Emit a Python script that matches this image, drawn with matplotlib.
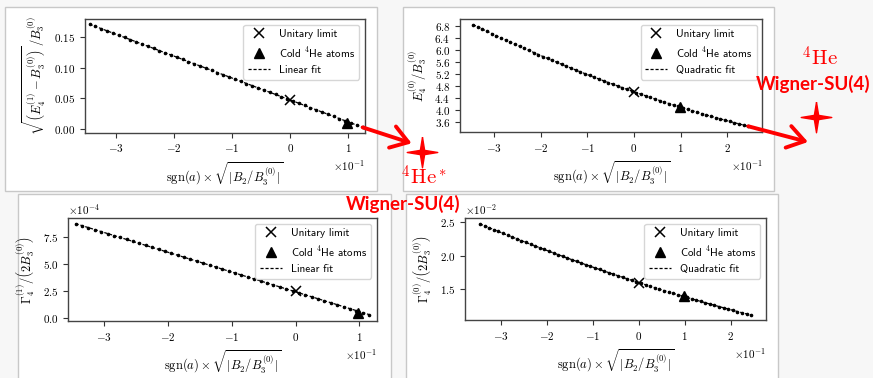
import numpy as np
import matplotlib
matplotlib.use("Agg")
import matplotlib.pyplot as plt
from matplotlib.patches import Rectangle, ConnectionPatch
from matplotlib.ticker import MultipleLocator

plt.rcParams['font.family'] = 'cmr10'
plt.rcParams['mathtext.fontset'] = 'cm'
plt.rcParams['axes.formatter.use_mathtext'] = True

# sgn(a) * sqrt(|B2/B3^(0)|), in units of 1e-1
x_lin = [-3.45, -3.35, -3.25, -3.15, -3.05, -2.95, -2.85, -2.75, -2.65, -2.55,
         -2.45, -2.35, -2.25, -2.15, -2.05, -1.95, -1.85, -1.75, -1.65, -1.55,
         -1.45, -1.35, -1.25, -1.15, -1.05, -0.95, -0.85, -0.75, -0.65, -0.55,
         -0.45, -0.35, -0.25, -0.15, -0.05, 0.05, 0.15, 0.25, 0.35, 0.45,
         0.55, 0.65, 0.75, 0.85, 0.95, 1.05, 1.15, 1.25]
x_quad = [-3.45, -3.35, -3.25, -3.15, -3.05, -2.95, -2.85, -2.75, -2.65, -2.55,
          -2.45, -2.35, -2.25, -2.15, -2.05, -1.95, -1.85, -1.75, -1.65, -1.55,
          -1.45, -1.35, -1.25, -1.15, -1.05, -0.95, -0.85, -0.75, -0.65, -0.55,
          -0.45, -0.35, -0.25, -0.15, -0.05, 0.05, 0.15, 0.25, 0.35, 0.45,
          0.55, 0.65, 0.75, 0.85, 0.95, 1.05, 1.15, 1.25, 1.35, 1.45,
          1.55, 1.65, 1.75, 1.85, 1.95, 2.05, 2.15, 2.25, 2.35, 2.45]

# sqrt(E4^(1) - B3^(0)) / B3^(0)
e4_excited = [0.1700, 0.1664, 0.1629, 0.1593, 0.1558, 0.1522, 0.1487, 0.1451, 0.1416, 0.1380,
              0.1345, 0.1309, 0.1274, 0.1238, 0.1203, 0.1167, 0.1132, 0.1096, 0.1061, 0.1025,
              0.0990, 0.0954, 0.0919, 0.0883, 0.0848, 0.0812, 0.0777, 0.0741, 0.0706, 0.0670,
              0.0635, 0.0599, 0.0564, 0.0528, 0.0493, 0.0457, 0.0422, 0.0386, 0.0351, 0.0315,
              0.0280, 0.0244, 0.0209, 0.0173, 0.0138, 0.0102, 0.0067, 0.0031]
# E4^(0) / B3^(0)
e4_ground = [6.8336, 6.7590, 6.6850, 6.6116, 6.5389, 6.4667, 6.3951, 6.3241, 6.2538, 6.1840,
             6.1149, 6.0463, 5.9784, 5.9111, 5.8443, 5.7782, 5.7127, 5.6478, 5.5835, 5.5198,
             5.4567, 5.3942, 5.3323, 5.2711, 5.2104, 5.1503, 5.0909, 5.0320, 4.9738, 4.9162,
             4.8591, 4.8027, 4.7469, 4.6917, 4.6371, 4.5831, 4.5297, 4.4769, 4.4247, 4.3731,
             4.3222, 4.2718, 4.2220, 4.1729, 4.1243, 4.0764, 4.0291, 3.9823, 3.9362, 3.8907,
             3.8458, 3.8015, 3.7578, 3.7147, 3.6722, 3.6303, 3.5891, 3.5484, 3.5083, 3.4689]
# Gamma4^(1) / (2 B3^(0)), in units of 1e-4
gamma_excited = [8.764, 8.581, 8.398, 8.215, 8.032, 7.849, 7.666, 7.483, 7.300, 7.117,
                 6.934, 6.751, 6.568, 6.385, 6.202, 6.019, 5.836, 5.653, 5.470, 5.287,
                 5.104, 4.921, 4.738, 4.555, 4.372, 4.189, 4.006, 3.823, 3.640, 3.457,
                 3.274, 3.091, 2.908, 2.725, 2.542, 2.359, 2.176, 1.993, 1.810, 1.627,
                 1.444, 1.261, 1.078, 0.895, 0.712, 0.529, 0.346]
# Gamma4^(0) / (2 B3^(0)), in units of 1e-2
gamma_ground = [2.4762, 2.4476, 2.4193, 2.3912, 2.3632, 2.3354, 2.3077, 2.2804, 2.2532, 2.2261,
                2.1993, 2.1726, 2.1461, 2.1199, 2.0938, 2.0679, 2.0421, 2.0166, 1.9913, 1.9661,
                1.9412, 1.9163, 1.8917, 1.8674, 1.8431, 1.8190, 1.7952, 1.7716, 1.7481, 1.7247,
                1.7017, 1.6787, 1.6560, 1.6335, 1.6111, 1.5889, 1.5669, 1.5452, 1.5235, 1.5021,
                1.4809, 1.4599, 1.4390, 1.4184, 1.3978, 1.3775, 1.3574, 1.3375, 1.3177, 1.2982,
                1.2789, 1.2597, 1.2406, 1.2219, 1.2033, 1.1848, 1.1665, 1.1485, 1.1306, 1.1129]

# special points: unitary limit at x=0, cold 4He atoms near x=1e-1
unitary_x = 0.0
cold_he_x = 0.98
unitary_y = [0.047, 4.61, 2.53, 1.60]
cold_he_y = [0.010, 4.10, 0.52, 1.40]

W, H = 873, 378
xlab = r'$\mathrm{sgn}(a)\times\sqrt{|B_2/B_3^{(0)}|}$'

fig = plt.figure(figsize=(W / 100, H / 100), dpi=100, facecolor='#f7f7f7')

# white slide frames (pixel boxes: x0, y0, x1, y1 from top-left)
for x0, y0, x1, y1 in [(5, 7, 377, 191), (403, 7, 774, 191),
                       (18, 194, 391, 385), (406, 194, 778, 385)]:
    fig.add_artist(Rectangle((x0 / W, 1 - y1 / H), (x1 - x0) / W, (y1 - y0) / H,
                             transform=fig.transFigure, facecolor='white',
                             edgecolor='#c8c8c8', lw=1, zorder=-1))


def panel(rect, x, y, deg, scale, i, ylabel, fitname, xlim, ylim, ystep, ysci):
    ax = fig.add_axes(rect)
    xs = np.asarray(x[:len(y)]) * 0.1
    ys = np.asarray(y) * scale
    coef = np.polyfit(xs, ys, deg)
    fit = np.polyval(coef, xs)
    ax.plot(xs, ys, 'o', color='black', ms=1.6, zorder=3)
    lf, = ax.plot(xs, fit, color='black', lw=0.9, ls=(0, (2.5, 1.5)), zorder=2)
    lu, = ax.plot(unitary_x * 0.1, unitary_y[i] * scale, 'x', color='black', ms=7, mew=1.1, zorder=4)
    lc, = ax.plot(cold_he_x * 0.1, cold_he_y[i] * scale, '^', color='black', ms=7, zorder=4)
    ax.legend([lu, lc, lf], ['Unitary limit', 'Cold $^4$He atoms', fitname],
              loc='upper right', prop={'family': 'cmss10', 'size': 8})
    ax.set_xlim(xlim[0] * 0.1, xlim[1] * 0.1)
    ax.set_ylim(ylim[0] * scale, ylim[1] * scale)
    ax.yaxis.set_major_locator(MultipleLocator(ystep * scale))
    ax.ticklabel_format(axis='x', style='sci', scilimits=(0, 0))
    if ysci:
        ax.ticklabel_format(axis='y', style='sci', scilimits=(0, 0))
    ax.tick_params(labelsize=8, length=3.5, color='#333333')
    for s in ax.spines.values():
        s.set_color('#444444')
        s.set_linewidth(1.0)
    ax.xaxis.get_offset_text().set_fontsize(8)
    ax.yaxis.get_offset_text().set_fontsize(8)
    ax.set_xlabel(xlab, fontsize=9)
    ax.set_ylabel(ylabel, fontsize=9)
    return ax, xs[-1], fit[-1]


ax1, xe1, ye1 = panel([85 / W, 1 - 132.7 / H, 280 / W, 113.4 / H], x_lin, e4_excited, 1, 1.0, 0,
                      r'$\sqrt{\left(E_4^{(1)}-B_3^{(0)}\right)}\,/B_3^{(0)}$', 'Linear fit',
                      (-3.53, 1.29), (-0.0055, 0.178), 0.05, False)
ax2, xe2, ye2 = panel([460 / W, 1 - 132.3 / H, 302.3 / W, 113 / H], x_quad, e4_ground, 2, 1.0, 1,
                      r'$E_4^{(0)}/B_3^{(0)}$', 'Quadratic fit',
                      (-3.73, 2.75), (3.27, 7.01), 0.4, False)
ax3, _, _ = panel([68.3 / W, 1 - 321 / H, 308.4 / W, 102.7 / H], x_lin, gamma_excited, 1, 1e-4, 2,
                  r'$\Gamma_4^{(1)}/\left(2B_3^{(0)}\right)$', 'Linear fit',
                  (-3.565, 1.27), (-0.25, 9.26), 2.5, True)
ax4, _, _ = panel([465 / W, 1 - 320 / H, 301 / W, 101.7 / H], x_quad, gamma_ground, 2, 1e-2, 3,
                  r'$\Gamma_4^{(0)}/\left(2B_3^{(0)}\right)$', 'Quadratic fit',
                  (-3.776, 2.77), (1.04, 2.56), 0.5, True)

# red annotations, in pixel coordinates of the slide
ov = fig.add_axes([0, 0, 1, 1], zorder=10)
ov.set_xlim(0, W)
ov.set_ylim(H, 0)
ov.axis('off')

for ax, xe, ye, tip in [(ax1, xe1, ye1, (411.7, 143.3)), (ax2, xe2, ye2, (808, 142))]:
    cp = ConnectionPatch(xyA=(xe, ye), coordsA=ax.transData, xyB=tip, coordsB=ov.transData,
                         arrowstyle='->,head_length=0.6,head_width=0.4', mutation_scale=20,
                         color='red', lw=2.8)
    cp.set_clip_on(False)
    ov.add_artist(cp)

r = 0.14
star = [(0, 1), (r, r), (1, 0), (r, -r), (0, -1), (-r, -r), (-1, 0), (-r, r), (0, 1)]
ov.plot([421.7, 816], [151.7, 117], ls='none', marker=star, ms=22, color='red', mec='red')

ov.text(424, 177, r'$^4\mathrm{He}^*$', color='red', fontsize=15, ha='center', va='center')
ov.text(820, 58, r'$^4\mathrm{He}$', color='red', fontsize=15, ha='center', va='center')
for cx, cy in [(403, 204), (813, 84)]:
    ov.text(cx, cy, 'Wigner-SU(4)', color='red', fontsize=13.5, fontweight='bold',
            family='Lato', ha='center', va='center')

fig.savefig('out.png', dpi=100, facecolor=fig.get_facecolor())
